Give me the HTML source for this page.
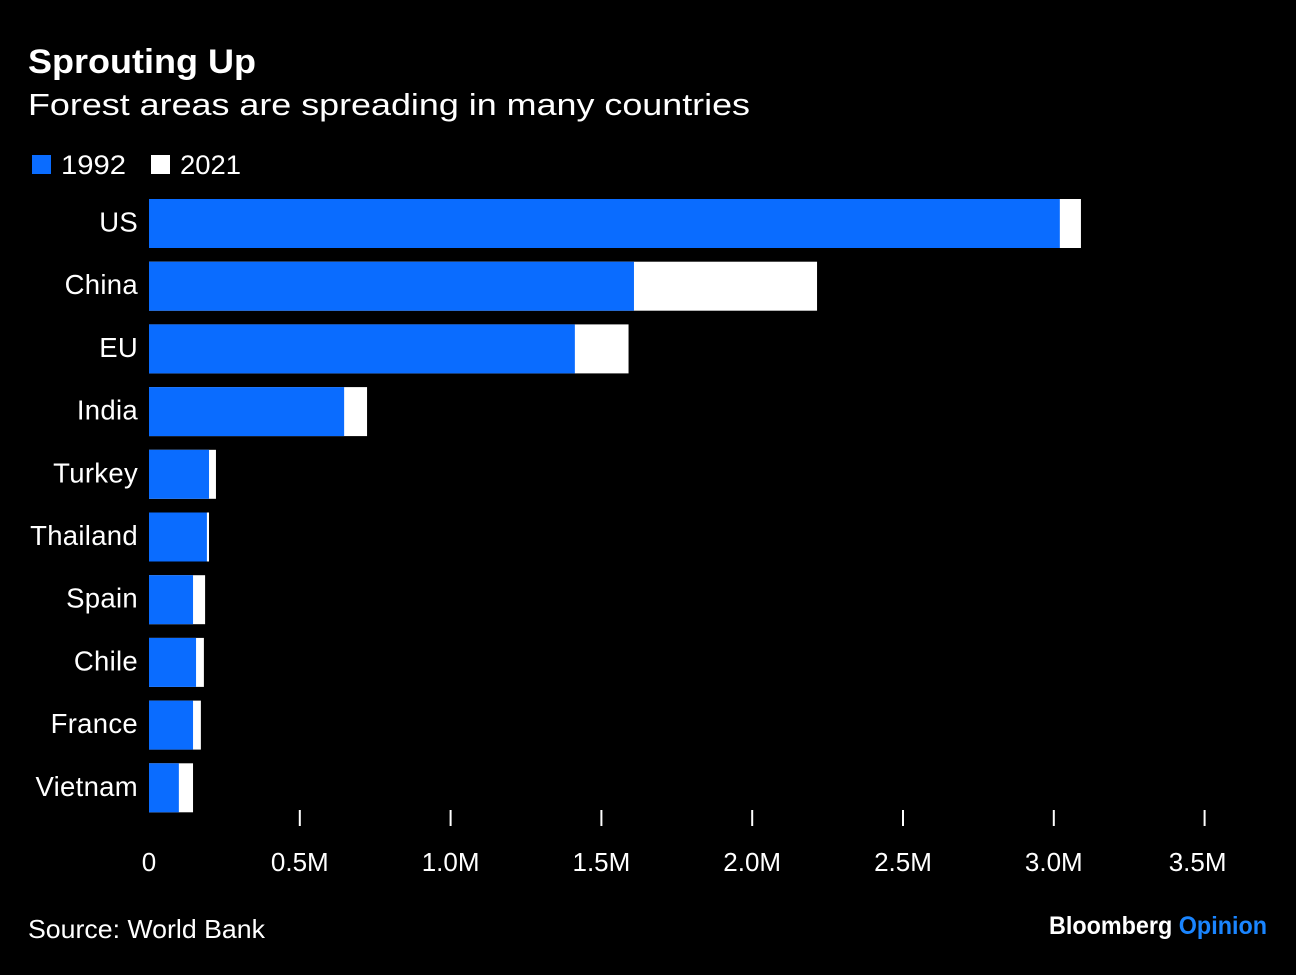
<!DOCTYPE html>
<html><head><meta charset="utf-8">
<style>
body{margin:0;background:#000;width:1296px;height:970px;overflow:hidden;font-family:"Liberation Sans",sans-serif;color:#fff}
</style></head>
<body>
<svg width="1296" height="970" xmlns="http://www.w3.org/2000/svg">
<text x="28" y="73" font-size="34" font-weight="bold" fill="#fff" textLength="228" lengthAdjust="spacingAndGlyphs">Sprouting Up</text>
<text x="28" y="115" font-size="31" fill="#fff" textLength="722" lengthAdjust="spacingAndGlyphs">Forest areas are spreading in many countries</text>
<g>
<rect x="32" y="155" width="19" height="19" fill="#0a6cff"/>
<text x="61" y="174" font-size="27" fill="#fff" textLength="65" lengthAdjust="spacingAndGlyphs">1992</text>
<rect x="151" y="155" width="19" height="19" fill="#fff"/>
<text x="180" y="174" font-size="27" fill="#fff" textLength="61" lengthAdjust="spacingAndGlyphs">2021</text>
</g>
<g id="plot"></g>
<text x="28" y="938" font-size="26" fill="#fff" textLength="237" lengthAdjust="spacingAndGlyphs">Source: World Bank</text>
<text x="1267" y="934" font-size="25" font-weight="bold" text-anchor="end" fill="#fff" textLength="218" lengthAdjust="spacingAndGlyphs">Bloomberg <tspan fill="#1a85ff">Opinion</tspan></text>
</svg>
<script>
const categories=["US","China","EU","India","Turkey","Thailand","Spain","Chile","France","Vietnam"];
const values1992=[3.02,1.608,1.412,0.647,0.199,0.192,0.146,0.156,0.146,0.099];
const values2021=[3.09,2.215,1.59,0.723,0.222,0.199,0.186,0.182,0.172,0.146];
const ticks=[0,0.5,1,1.5,2,2.5,3,3.5];
const tickLabels=["0","0.5M","1.0M","1.5M","2.0M","2.5M","3.0M","3.5M"];
const NS="http://www.w3.org/2000/svg";
const g=document.getElementById('plot');
const x=v=>149+v*301.6;
const y=i=>199+i*62.7;
const bh=49;
function mk(t,a){const e=document.createElementNS(NS,t);for(const k in a)e.setAttribute(k,a[k]);g.appendChild(e);return e;}
categories.forEach((c,i)=>{
  const w=mk('rect',{x:x(0),y:y(i),width:x(values2021[i])-x(0),height:bh,fill:'#fff'});
  
  
  const b=mk('rect',{x:x(0),y:y(i),width:x(values1992[i])-x(0),height:bh,fill:'#0a6cff'});
  
  
  const t=mk('text',{x:138,y:y(i)+bh/2+8,'font-size':27.5,'text-anchor':'end',fill:'#fff','letter-spacing':'0.3'});
  t.textContent=c;
  
  
});
ticks.forEach((v,i)=>{
  if(v>0){const l=mk('line',{x1:x(v),x2:x(v),y1:810,y2:826,stroke:'#fff','stroke-width':2});
  
  }
  const lx=i===ticks.length-1?x(v)-7:x(v);
  const t=mk('text',{x:lx,y:871,'font-size':26,'text-anchor':'middle',fill:'#fff'});
  t.textContent=tickLabels[i];
  
  
});
</script>
</body></html>
